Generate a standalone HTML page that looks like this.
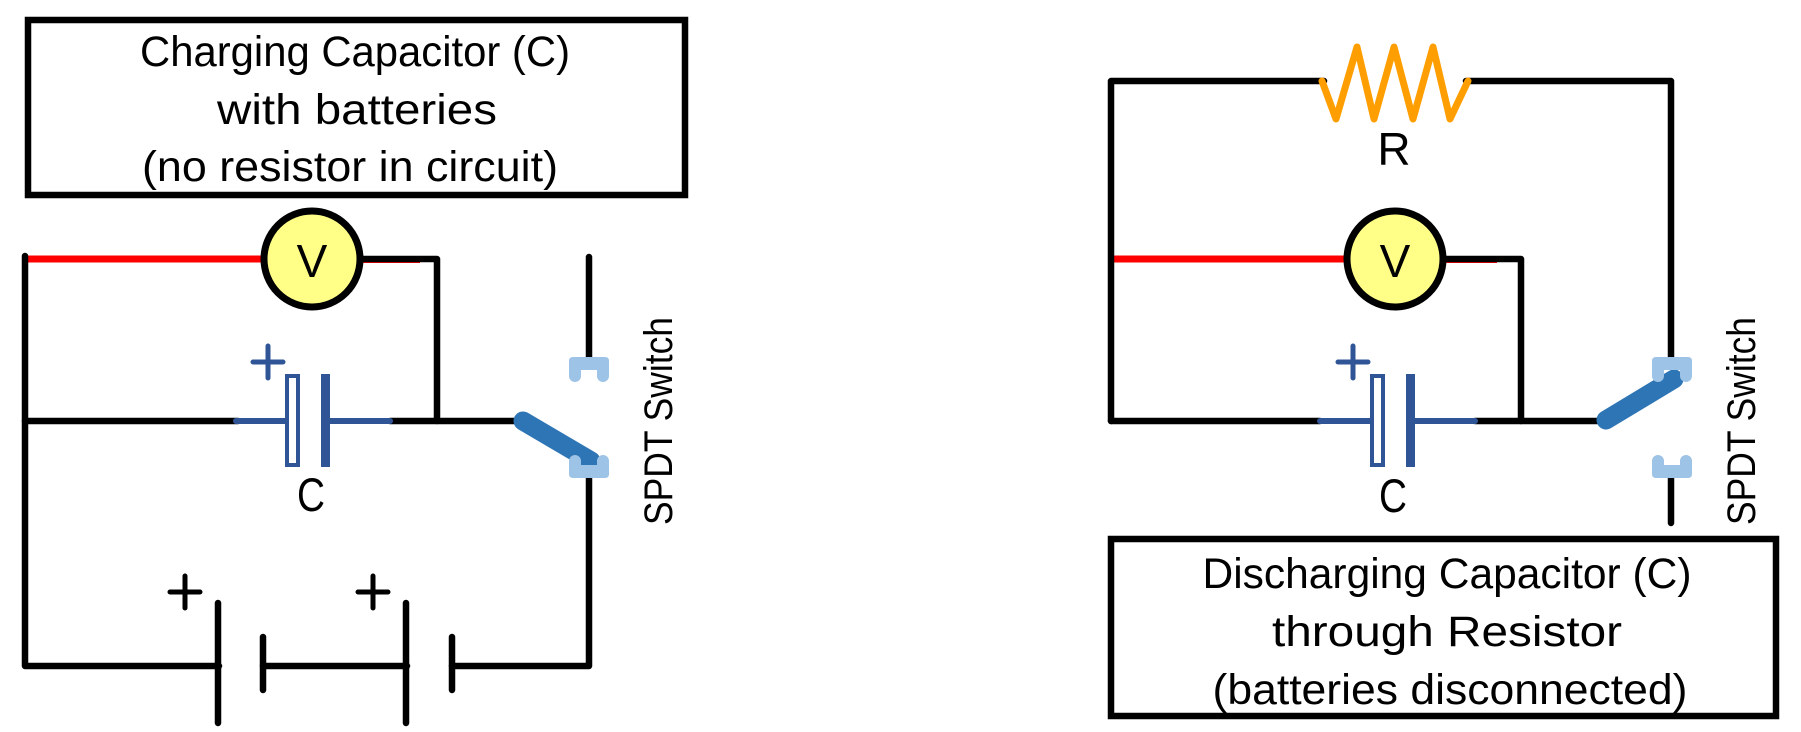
<!DOCTYPE html>
<html>
<head>
<meta charset="utf-8">
<style>
  html, body { margin: 0; padding: 0; background: #fff; }
  svg { display: block; }
</style>
</head>
<body>
<svg width="1801" height="732" viewBox="0 0 1801 732" xmlns="http://www.w3.org/2000/svg">
  <rect width="1801" height="732" fill="#ffffff"/>

  <!-- ================= LEFT: Charging ================= -->
  <rect x="28" y="20" width="657" height="175" fill="none" stroke="#000" stroke-width="6.5"/>
  <g font-family="'Liberation Sans', sans-serif" font-size="43" text-anchor="middle" fill="#000">
    <text x="355" y="66" textLength="430" lengthAdjust="spacingAndGlyphs">Charging Capacitor (C)</text>
    <text x="357" y="124" textLength="280" lengthAdjust="spacingAndGlyphs">with batteries</text>
    <text x="350" y="181" textLength="416" lengthAdjust="spacingAndGlyphs">(no resistor in circuit)</text>
  </g>

  <!-- red wire to voltmeter -->
  <path d="M28,259 H266" stroke="#ff0000" stroke-width="7" fill="none"/>
  <path d="M358,262 H420" stroke="#ff0000" stroke-width="2" fill="none"/>

  <g stroke="#000" stroke-width="6.5" fill="none" stroke-linejoin="round" stroke-linecap="round">
    <path d="M25,256 V666 H219"/>
    <path d="M358,259 H437 V421"/>
    <path d="M25,421 H238"/>
    <path d="M390,421 H524"/>
    <path d="M589,257 V360"/>
    <path d="M589,476 V666 H452"/>
    <path d="M263,666 H407"/>
    <!-- battery plates -->
    <path d="M218,603 V723"/>
    <path d="M263,637 V690"/>
    <path d="M406,603 V723"/>
    <path d="M452,637 V690"/>
    <!-- battery plus signs -->
    <path d="M170,592 H200 M185,576 V608" stroke-width="5"/>
    <path d="M358,592 H388 M373,576 V608" stroke-width="5"/>
  </g>

  <!-- capacitor left -->
  <g stroke="#2F5597" fill="none" stroke-linecap="round">
    <path d="M236,421 H286" stroke-width="6"/>
    <path d="M330,421 H390" stroke-width="6"/>
    <path d="M253,362 H283 M268,346 V378" stroke-width="5"/>
  </g>
  <rect x="287" y="376" width="11" height="89" fill="#fff" stroke="#2F5597" stroke-width="4"/>
  <rect x="321" y="374" width="9" height="93" fill="#2F5597"/>
  <text x="311" y="511" font-family="'Liberation Sans', sans-serif" font-size="47" text-anchor="middle" fill="#000" textLength="28" lengthAdjust="spacingAndGlyphs">C</text>

  <!-- voltmeter left -->
  <circle cx="312" cy="259" r="48" fill="#FFFF88" stroke="#000" stroke-width="7"/>
  <text x="312" y="277" font-family="'Liberation Sans', sans-serif" font-size="46" text-anchor="middle" fill="#000">V</text>

  <!-- switch left -->
  <path d="M523,421 L591,461" stroke="#2E75B6" stroke-width="19" stroke-linecap="round" fill="none"/>
  <path d="M569,361 q0,-4 4,-4 h32 q4,0 4,4 v15 a6,6 0 0 1 -12,0 v-6 h-16 v6 a6,6 0 0 1 -12,0 z" fill="#9DC3E6"/>
  <path d="M569,461 a6,6 0 0 1 12,0 v4 h16 v-4 a6,6 0 0 1 12,0 v13 q0,4 -4,4 h-32 q-4,0 -4,-4 z" fill="#9DC3E6"/>
  <text transform="translate(672,421) rotate(-90)" font-family="'Liberation Sans', sans-serif" font-size="40" text-anchor="middle" fill="#000" textLength="208" lengthAdjust="spacingAndGlyphs">SPDT Switch</text>

  <!-- ================= RIGHT: Discharging ================= -->
  <!-- red wire -->
  <path d="M1114,259 H1349" stroke="#ff0000" stroke-width="7" fill="none"/>
  <path d="M1441,262 H1497" stroke="#ff0000" stroke-width="2" fill="none"/>

  <g stroke="#000" stroke-width="6.5" fill="none" stroke-linejoin="round" stroke-linecap="round">
    <path d="M1111,421 V81 H1324"/>
    <path d="M1466,81 H1671 V360"/>
    <path d="M1441,259 H1521 V421"/>
    <path d="M1111,421 H1320"/>
    <path d="M1475,421 H1606"/>
    <path d="M1671,476 V523"/>
  </g>

  <!-- resistor -->
  <path d="M1322,81 L1336,119 L1357,47 L1374,119 L1394,47 L1413,119 L1433,47 L1450,119 L1468,81" stroke="#FF9E00" stroke-width="7" fill="none" stroke-linejoin="round" stroke-linecap="round"/>
  <text x="1394" y="165" font-family="'Liberation Sans', sans-serif" font-size="46" text-anchor="middle" fill="#000">R</text>

  <!-- capacitor right -->
  <g stroke="#2F5597" fill="none" stroke-linecap="round">
    <path d="M1320,421 H1371" stroke-width="6"/>
    <path d="M1415,421 H1475" stroke-width="6"/>
    <path d="M1338,362 H1368 M1353,346 V378" stroke-width="5"/>
  </g>
  <rect x="1372" y="376" width="11" height="89" fill="#fff" stroke="#2F5597" stroke-width="4"/>
  <rect x="1406" y="374" width="9" height="93" fill="#2F5597"/>
  <text x="1393" y="512" font-family="'Liberation Sans', sans-serif" font-size="47" text-anchor="middle" fill="#000" textLength="28" lengthAdjust="spacingAndGlyphs">C</text>

  <!-- voltmeter right -->
  <circle cx="1395" cy="259" r="48" fill="#FFFF88" stroke="#000" stroke-width="7"/>
  <text x="1395" y="277" font-family="'Liberation Sans', sans-serif" font-size="46" text-anchor="middle" fill="#000">V</text>

  <!-- switch right -->
  <path d="M1606,420 L1674,379" stroke="#2E75B6" stroke-width="19" stroke-linecap="round" fill="none"/>
  <path d="M1652,361 q0,-4 4,-4 h32 q4,0 4,4 v15 a6,6 0 0 1 -12,0 v-6 h-16 v6 a6,6 0 0 1 -12,0 z" fill="#9DC3E6"/>
  <path d="M1652,461 a6,6 0 0 1 12,0 v4 h16 v-4 a6,6 0 0 1 12,0 v13 q0,4 -4,4 h-32 q-4,0 -4,-4 z" fill="#9DC3E6"/>
  <text transform="translate(1755,421) rotate(-90)" font-family="'Liberation Sans', sans-serif" font-size="40" text-anchor="middle" fill="#000" textLength="208" lengthAdjust="spacingAndGlyphs">SPDT Switch</text>

  <!-- bottom-right box -->
  <rect x="1111" y="539" width="665" height="177" fill="none" stroke="#000" stroke-width="6.5"/>
  <g font-family="'Liberation Sans', sans-serif" font-size="43" text-anchor="middle" fill="#000">
    <text x="1447" y="588" textLength="489" lengthAdjust="spacingAndGlyphs">Discharging Capacitor (C)</text>
    <text x="1447" y="646" textLength="350" lengthAdjust="spacingAndGlyphs">through Resistor</text>
    <text x="1450" y="704" textLength="475" lengthAdjust="spacingAndGlyphs">(batteries disconnected)</text>
  </g>
</svg>
</body>
</html>
